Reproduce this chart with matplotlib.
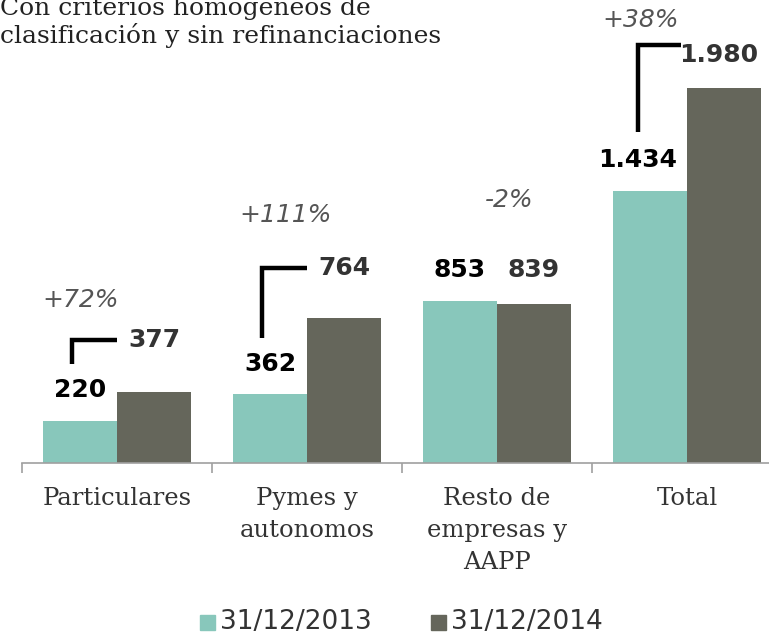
import matplotlib.pyplot as plt
from matplotlib.patches import Rectangle

# datos
categorias = ["Particulares", "Pymes y\nautonomos", "Resto de\nempresas y\nAAPP", "Total"]
valores_2013 = [220, 362, 853, 1434]
valores_2014 = [377, 764, 839, 1980]
etiquetas_2013 = ["220", "362", "853", "1.434"]
etiquetas_2014 = ["377", "764", "839", "1.980"]
variaciones = ["+72%", "+111%", "-2%", "+38%"]
series = ["31/12/2013", "31/12/2014"]

# colores
c_claro = "#88c7bb"
c_oscuro = "#65665b"

fig = plt.figure(figsize=(7.69, 6.39), dpi=100)
# eje: base en y=463 px, categorias de 190 px desde x=22
ax = fig.add_axes([22 / 769, 1 - 463 / 639, 760 / 769, 463 / 639])
escala = 375 / 1980  # px por unidad
ax.set_ylim(0, 463 / escala)
ax.set_xlim(-0.5, 3.5)

ancho = 74 / 190
xs = list(range(len(categorias)))
ax.bar([x - ancho / 2 for x in xs], valores_2013, ancho, color=c_claro)
ax.bar([x + ancho / 2 for x in xs], valores_2014, ancho, color=c_oscuro)

def px(p):
    # desplazamiento en px -> unidades de datos
    return p / escala

# etiquetas de valores (desplazamiento vertical en px)
sube_2013 = [31, 30, 31, 31]
sube_2014 = [52, 50, 34, 33]
dx_2013 = [0, 0, 0, -12 / 190]
dx_2014 = [0, 0, 0, -5 / 190]
for i in xs:
    ax.text(i - ancho / 2 + dx_2013[i], valores_2013[i] + px(sube_2013[i]), etiquetas_2013[i],
            ha="center", va="center", fontsize=18, fontweight="bold", color="black")
    ax.text(i + ancho / 2 + dx_2014[i], valores_2014[i] + px(sube_2014[i]), etiquetas_2014[i],
            ha="center", va="center", fontsize=18, fontweight="bold", color="#333333")

# variaciones (altura en px desde la base)
alto_var = [163, 248, 263, 443]
dx_var = [-36 / 190, -21 / 190, 12 / 190, -46 / 190]
for i in xs:
    ax.text(i + dx_var[i], px(alto_var[i]), variaciones[i], ha="center", va="center",
            fontsize=18, style="italic", color="#555555")

# corchetes
corchetes = [0, 1, 3]
for i in corchetes:
    xv = i - ancho / 2 - 8 / 190
    y0 = valores_2013[i] + px(sube_2013[i] + 26)
    y1 = valores_2014[i] + px(sube_2014[i])
    if i == 3:
        xv = i - ancho / 2 - 12 / 190
        y0 = valores_2013[i] + px(sube_2013[i] + 28)
        y1 = valores_2014[i] + px(43)
    ax.plot([xv, xv, i - 0.03 if i == 3 else i], [y0, y1, y1], color="black", lw=3.2,
            solid_capstyle="butt", solid_joinstyle="miter")

# eje
for s in ["left", "right", "top"]:
    ax.spines[s].set_visible(False)
ax.spines["bottom"].set_color("#a0a0a0")
ax.spines["bottom"].set_linewidth(1.2)
ax.set_yticks([])
ax.set_xticks(xs)
ax.set_xticklabels(categorias, fontsize=17.5, family="DejaVu Serif", color="#333333",
                   linespacing=1.5, va="top")
ax.tick_params(axis="x", which="major", length=0, pad=17)
ax.set_xticks([-0.5, 0.5, 1.5, 2.5, 3.5], minor=True)
ax.tick_params(axis="x", which="minor", length=7, color="#a0a0a0", width=1.2)

# titulo (cortado arriba)
fig.text(0, 1 - 43 / 639, "Con criterios homogeneos de\nclasificación y sin refinanciaciones",
         ha="left", va="baseline", fontsize=18, family="DejaVu Serif", color="#222222",
         linespacing=1.15)

# leyenda
for xm, col, txt in [(200, c_claro, series[0]), (431, c_oscuro, series[1])]:
    fig.patches.append(Rectangle((xm / 769, 1 - 630 / 639), 15 / 769, 15 / 639,
                                 transform=fig.transFigure, color=col))
    fig.text((xm + 20) / 769, 1 - 622 / 639, txt, ha="left", va="center",
             fontsize=19, color="#333333")

fig.savefig("out.png", dpi=100)
